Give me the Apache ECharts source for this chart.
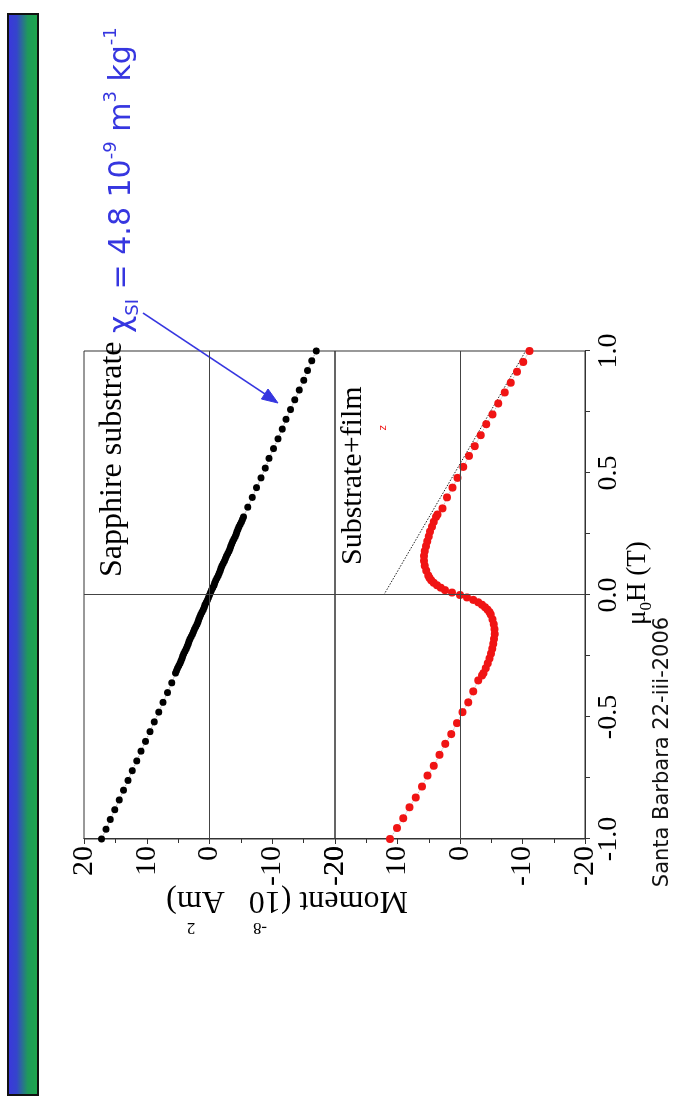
<!DOCTYPE html>
<html><head><meta charset="utf-8">
<script src="https://cdn.jsdelivr.net/npm/echarts@6/dist/echarts.min.js"></script>
<style>
html,body{margin:0;padding:0;background:#fff;overflow:hidden;width:688px;height:1110px}
#wrap{position:absolute;left:0;top:0;width:1110px;height:688px;transform-origin:0 0;transform:translate(0px,1110px) rotate(-90deg);}
#chart{width:1110px;height:688px}
</style></head>
<body><div id="wrap"><div id="chart"></div></div>
<script>
// ---- data ----
const fieldTicks = [-1.0, -0.5, 0.0, 0.5, 1.0];
const momentTicks = [-20, -10, 0, 10, 20];

const sapphireField = [-1.00,-0.96,-0.92,-0.88,-0.84,-0.80,-0.76,-0.72,-0.68,-0.64,-0.60,-0.56,-0.52,-0.48,-0.44,-0.40,-0.36,
  -0.32,-0.31,-0.30,-0.29,-0.28,-0.27,-0.26,-0.25,-0.24,-0.23,-0.22,-0.21,-0.20,-0.19,-0.18,-0.17,-0.16,-0.15,-0.14,-0.13,-0.12,-0.11,
  -0.10,-0.09,-0.08,-0.07,-0.06,-0.05,-0.04,-0.03,-0.02,-0.01,0.00,
  0.01,0.02,0.03,0.04,0.05,0.06,0.07,0.08,0.09,0.10,0.11,0.12,0.13,0.14,0.15,0.16,0.17,0.18,0.19,0.20,
  0.21,0.22,0.23,0.24,0.25,0.26,0.27,0.28,0.29,0.30,0.31,0.32,
  0.36,0.40,0.44,0.48,0.52,0.56,0.60,0.64,0.68,0.72,0.76,0.80,0.84,0.88,0.92,0.96,1.00];
const sapphireMoment = [17.2,16.5,15.8,15.1,14.4,13.7,13.0,12.3,11.6,10.9,10.2,9.5,8.8,8.1,7.4,6.7,6.0,
  5.4,5.25,5.1,4.9,4.7,4.55,4.4,4.25,4.1,3.9,3.7,3.55,3.4,3.25,3.1,2.9,2.7,2.55,2.4,2.2,2.0,1.85,
  1.7,1.55,1.4,1.2,1.0,0.85,0.7,0.5,0.3,0.15,0.0,
  -0.15,-0.3,-0.5,-0.7,-0.85,-1.0,-1.2,-1.4,-1.55,-1.7,-1.85,-2.0,-2.2,-2.4,-2.55,-2.7,-2.9,-3.1,-3.25,-3.4,
  -3.55,-3.7,-3.9,-4.1,-4.25,-4.4,-4.55,-4.7,-4.9,-5.1,-5.25,-5.4,
  -6.1,-6.8,-7.5,-8.2,-8.9,-9.5,-10.2,-10.9,-11.6,-12.2,-12.9,-13.6,-14.3,-15.0,-15.6,-16.3,-17.0];

const filmField = [-1.00,-0.955,-0.915,-0.87,-0.83,-0.785,-0.74,-0.70,-0.655,-0.61,-0.57,-0.525,-0.48,-0.44,-0.395,-0.35,
  -0.33,-0.32,-0.30,-0.28,-0.26,-0.24,-0.22,-0.20,-0.18,-0.16,-0.14,-0.12,-0.10,-0.08,-0.07,-0.06,-0.05,-0.04,-0.03,-0.02,-0.01,0.00,
  0.01,0.02,0.03,0.04,0.05,0.06,0.07,0.08,0.10,0.12,0.14,0.16,0.18,0.20,0.22,0.24,0.26,0.28,0.30,0.32,0.33,
  0.355,0.40,0.44,0.48,0.525,0.57,0.61,0.655,0.70,0.74,0.785,0.83,0.87,0.915,0.955,1.00];
const filmMoment = [11.2,10.1,9.1,8.1,7.1,6.1,5.2,4.2,3.3,2.35,1.4,0.5,-0.4,-1.3,-2.1,-2.9,
  -3.5,-3.75,-4.1,-4.45,-4.7,-4.95,-5.15,-5.3,-5.45,-5.55,-5.5,-5.4,-5.2,-4.9,-4.7,-4.4,-4.0,-3.5,-2.9,-2.1,-1.1,0.0,
  1.3,2.4,3.1,3.7,4.2,4.6,4.9,5.1,5.4,5.65,5.75,5.75,5.65,5.45,5.25,5.0,4.8,4.5,4.2,3.85,3.6,
  2.8,2.1,1.2,0.4,-0.5,-1.45,-2.35,-3.3,-4.2,-5.2,-6.1,-7.15,-8.1,-9.1,-10.1,-11.1];

const fitField = [0.0, 1.0];
const fitMoment = [12.2, -10.5];

// ---- build ----
const zip = (a, b) => a.map((v, i) => [v, b[i]]);
const SERIF = '"Liberation Serif","Times New Roman",serif';
const SANS = '"DejaVu Sans",Verdana,sans-serif';
const BLUE = '#3636e0';
const AX = '#333';

function fieldAxis(grid, showLabels) {
  return {
    gridIndex: grid, type: 'value',
    min: fieldTicks[0], max: fieldTicks[fieldTicks.length - 1], interval: fieldTicks[1] - fieldTicks[0],
    axisLine: {show: showLabels, onZero: false, lineStyle: {color: AX, width: 1}},
    axisTick: {show: showLabels, inside: false, length: 5, lineStyle: {color: AX}},
    minorTick: {show: showLabels, splitNumber: 2, length: 5, lineStyle: {color: AX}},
    axisLabel: {show: showLabels, fontFamily: SERIF, fontSize: 28, color: '#000', margin: 10,
      formatter: v => v.toFixed(1)},
    splitLine: {show: false}, minorSplitLine: {show: false}
  };
}
function momentAxis(grid) {
  return {
    gridIndex: grid, type: 'value',
    min: momentTicks[0], max: momentTicks[momentTicks.length - 1], interval: momentTicks[1] - momentTicks[0],
    axisLine: {show: true, onZero: false, lineStyle: {color: AX, width: 1}},
    axisTick: {show: true, inside: false, length: 5, lineStyle: {color: AX}},
    minorTick: {show: true, splitNumber: 2, length: 4, lineStyle: {color: AX}},
    axisLabel: {fontFamily: SERIF, fontSize: 30, color: '#000', margin: 7},
    splitLine: {show: false}
  };
}
const zeroLines = {
  silent: true, symbol: ['none', 'none'], label: {show: false},
  lineStyle: {color: '#444', width: 1, type: 'solid'},
  emphasis: {disabled: true},
  data: [{xAxis: 0}, {yAxis: 0}]
};

const chart = echarts.init(document.getElementById('chart'), null, {renderer: 'canvas', width: 1110, height: 688});
chart.setOption({
  animation: false,
  backgroundColor: '#fff',
  grid: [
    {left: 271, top: 84, width: 488, height: 251, show: true, borderColor: AX, borderWidth: 1},
    {left: 271, top: 335, width: 488, height: 250, show: true, borderColor: AX, borderWidth: 1}
  ],
  xAxis: [fieldAxis(0, false), fieldAxis(1, true)],
  yAxis: [momentAxis(0), momentAxis(1)],
  series: [
    {type: 'line', xAxisIndex: 0, yAxisIndex: 0, data: [], z: 1, markLine: zeroLines},
    {type: 'line', xAxisIndex: 1, yAxisIndex: 1, data: [], z: 1, markLine: zeroLines},
    {type: 'line', name: 'fit', xAxisIndex: 1, yAxisIndex: 1, data: zip(fitField, fitMoment), z: 2,
      symbol: 'none', lineStyle: {color: '#222', width: 1, type: [1.5, 1.5]}, silent: true},
    {type: 'line', name: 'Sapphire substrate', xAxisIndex: 0, yAxisIndex: 0, data: zip(sapphireField, sapphireMoment), z: 3,
      symbol: 'circle', symbolSize: 7, showAllSymbol: true, itemStyle: {color: '#000'},
      lineStyle: {color: '#999', width: 1, type: 'dotted'}, silent: true},
    {type: 'line', name: 'Substrate+film', xAxisIndex: 1, yAxisIndex: 1, data: zip(filmField, filmMoment), z: 3,
      symbol: 'circle', symbolSize: 8, showAllSymbol: true, itemStyle: {color: '#f01414'},
      lineStyle: {color: '#bbb', width: 1, type: 'dotted'}, silent: true}
  ],
  graphic: [
    {type: 'rect', shape: {x: 15, y: 8, width: 1081, height: 30},
      style: {stroke: '#111', lineWidth: 2,
        fill: new echarts.graphic.LinearGradient(0, 0, 0, 1, [
          {offset: 0, color: '#3a36de'}, {offset: 0.3, color: '#3544cc'},
          {offset: 0.65, color: '#1f9a5a'}, {offset: 1, color: '#1ea84a'}])}},
    {type: 'text', x: 533, y: 113,
      style: {text: 'Sapphire substrate', fontSize: 32, fontFamily: SERIF, fill: '#000',
        align: 'left', verticalAlign: 'middle', textAlign: 'left', textVerticalAlign: 'middle'}},
    {type: 'text', x: 545, y: 353,
      style: {text: 'Substrate+film', fontSize: 30, fontFamily: SERIF, fill: '#000',
        align: 'left', verticalAlign: 'middle', textAlign: 'left', textVerticalAlign: 'middle'}},
    {type: 'text', x: 682, y: 383,
      style: {text: 'z', fontSize: 10, fontFamily: SANS, fill: '#f01414',
        align: 'center', verticalAlign: 'middle', textAlign: 'center', textVerticalAlign: 'middle'}},
    {type: 'text', x: 777, y: 122,
      style: {text: '{m|χ}{sub|SI}{m| = 4.8 10}{sup|-9}{m| m}{sup|3}{m| kg}{sup|-1}',
        fill: BLUE, align: 'left', verticalAlign: 'middle', textAlign: 'left', textVerticalAlign: 'middle',
        rich: {
          m: {fontSize: 30, fontFamily: SANS, fill: BLUE, lineHeight: 40},
          sub: {fontSize: 18, fontFamily: SANS, fill: BLUE, lineHeight: 18, verticalAlign: 'bottom'},
          sup: {fontSize: 18, fontFamily: SANS, fill: BLUE, lineHeight: 30, verticalAlign: 'top'}
        }}},
    {type: 'polyline', shape: {points: [[797, 143], [716, 265]]},
      style: {stroke: BLUE, lineWidth: 1.5, fill: null}},
    {type: 'polygon', shape: {points: [[707, 278], [721, 268], [711, 261.4]]},
      style: {fill: BLUE, stroke: BLUE, lineWidth: 1}},
    {type: 'text', x: 210, y: 287, rotation: Math.PI / 2,
      style: {text: 'Moment (10   Am)', fontSize: 32, fontFamily: SERIF, fill: '#000',
        align: 'center', verticalAlign: 'middle', textAlign: 'center', textVerticalAlign: 'middle'}},
    {type: 'text', x: 183, y: 260, rotation: Math.PI / 2,
      style: {text: '-8', fontSize: 17, fontFamily: SERIF, fill: '#000',
        align: 'center', verticalAlign: 'middle', textAlign: 'center', textVerticalAlign: 'middle'}},
    {type: 'text', x: 183, y: 191, rotation: Math.PI / 2,
      style: {text: '2', fontSize: 17, fontFamily: SERIF, fill: '#000',
        align: 'center', verticalAlign: 'middle', textAlign: 'center', textVerticalAlign: 'middle'}},
    {type: 'text', x: 485, y: 638,
      style: {text: '{m|μ}{sub|0}{m|H (T)}', fill: '#000',
        align: 'left', verticalAlign: 'middle', textAlign: 'left', textVerticalAlign: 'middle',
        rich: {
          m: {fontSize: 27, fontFamily: SERIF, fill: '#000', lineHeight: 34},
          sub: {fontSize: 17, fontFamily: SERIF, fill: '#000', lineHeight: 14, verticalAlign: 'bottom'}
        }}},
    {type: 'text', x: 358, y: 663,
      style: {text: 'Santa Barbara 22-iii-2006', fontSize: 21, fontFamily: SANS, fill: '#111',
        align: 'center', verticalAlign: 'middle', textAlign: 'center', textVerticalAlign: 'middle'}}
  ]
});
</script></body></html>
